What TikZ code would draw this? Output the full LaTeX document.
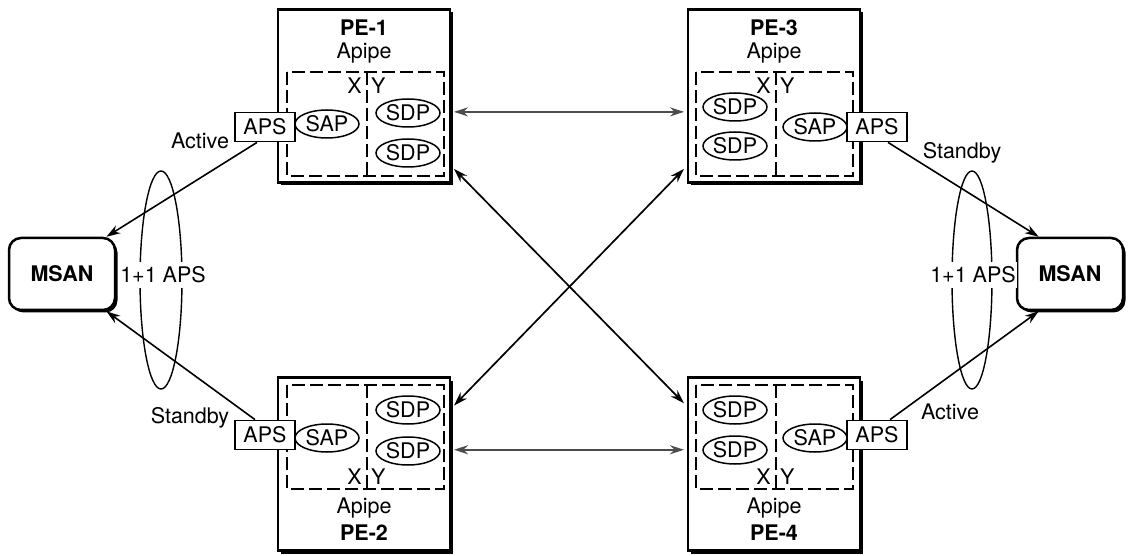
\documentclass[tikz,border=0pt]{standalone}
\usepackage{fontspec}
\setmainfont{TeX Gyre Heros}
\usetikzlibrary{arrows.meta,shapes.geometric,shadows}

\newcommand{\lblfont}{\fontsize{21.5}{25}\selectfont}
\definecolor{linkgray}{gray}{0.3}

\tikzset{
	pebox/.style={draw, line width=2.5pt, fill=white, minimum width=172pt, minimum height=173pt, outer sep=4pt,
		drop shadow={shadow xshift=3pt, shadow yshift=-3pt, fill=black, opacity=1}},
	msanbox/.style={draw, line width=2.5pt, fill=white, rounded corners=12pt, minimum width=106pt, minimum height=72pt,
		font=\bfseries\lblfont, drop shadow={shadow xshift=2.5pt, shadow yshift=-2.5pt, fill=black, opacity=1}},
	svc/.style={draw, ellipse, line width=1.5pt, fill=white, minimum width=64pt, minimum height=28pt, inner sep=0pt},
	apsbox/.style={draw, line width=1.8pt, fill=white, minimum width=60pt, minimum height=29pt, inner sep=0pt},
	dashbox/.style={line width=1.5pt, dash pattern=on 13pt off 5pt},
	petitle/.style={font=\bfseries\lblfont},
	tolink/.style={line width=1.6pt, -{Stealth[length=14pt,width=9pt]}},
	pwlink/.style={line width=1.7pt, {Stealth[length=14pt,width=9pt]}-{Stealth[length=14pt,width=9pt]}}
}

\begin{document}
\begin{tikzpicture}[x=1pt, y=-1pt, every node/.style={font=\lblfont}]
	\useasboundingbox (0,0) rectangle (1128,556);
	% PE routers
	\node[pebox] (pe1) at (364,96) {};
	\node[pebox] (pe3) at (774,96) {};
	\node[pebox] (pe2) at (364,464) {};
	\node[pebox] (pe4) at (774,464) {};
	\node[petitle] (t1) at (364,28) {PE-1};
	\node (ap1) at (364,53) {Apipe};
	\node[petitle] (t3) at (774,28) {PE-3};
	\node (ap3) at (774,53) {Apipe};
	\node (ap2) at (364,508) {Apipe};
	\node[petitle] (t2) at (364,533) {PE-2};
	\node (ap4) at (774,508) {Apipe};
	\node[petitle] (t4) at (774,533) {PE-4};
	% Apipe service, X and Y side
	\foreach \x/\y/\n in {287/72/1, 696/72/3, 287/385/2, 696/385/4} {
		\draw[dashbox] (\x,\y) rectangle (\x+157,\y+104);
		\draw[dashbox] (\x+80,\y) -- (\x+80,\y+104);
	}
	\foreach \x/\y/\n in {367/86/1, 776/86/3, 367/477/2, 776/477/4} {
		\node[anchor=east, inner xsep=5pt] (x\n) at (\x,\y) {X};
		\node[anchor=west, inner xsep=4pt] (y\n) at (\x,\y) {Y};
	}
	% SAPs, SDPs and APS ports
	\node[svc] (sap1) at (327,124) {SAP};
	\node[svc] (sdp1a) at (408,113) {SDP};
	\node[svc] (sdp1b) at (408,153) {SDP};
	\node[apsbox] (aps1) at (265,127) {APS};
	\node[svc] (sdp3a) at (735,107) {SDP};
	\node[svc] (sdp3b) at (735,146) {SDP};
	\node[svc] (sap3) at (815,127) {SAP};
	\node[apsbox] (aps3) at (877,127) {APS};
	\node[svc] (sap2) at (327,438) {SAP};
	\node[svc] (sdp2a) at (408,410) {SDP};
	\node[svc] (sdp2b) at (408,451) {SDP};
	\node[apsbox] (aps2) at (265,435) {APS};
	\node[svc] (sdp4a) at (735,410) {SDP};
	\node[svc] (sdp4b) at (735,450) {SDP};
	\node[svc] (sap4) at (815,438) {SAP};
	\node[apsbox] (aps4) at (877,435) {APS};
	% MSANs
	\node[msanbox] (msanL) at (62,274) {MSAN};
	\node[msanbox] (msanR) at (1070,274) {MSAN};
	% 1+1 APS groups
	\draw[line width=1.4pt] (161,280) ellipse [x radius=21pt, y radius=109pt];
	\draw[line width=1.4pt] (972,280) ellipse [x radius=20pt, y radius=109pt];
	\node[fill=white, inner xsep=1pt, inner ysep=5pt] (g1) at (163,275) {1+1 APS};
	\node[fill=white, inner xsep=1pt, inner ysep=5pt] (g2) at (973,275) {1+1 APS};
	% access links
	\draw[tolink] ([xshift=-8pt]aps1.south) -- (msanL.40);
	\draw[tolink] ([xshift=-10pt]aps2.north) -- (msanL.-40);
	\draw[tolink] ([xshift=11pt]aps3.south) -- (msanR.130);
	\draw[tolink] ([xshift=13pt]aps4.north) -- (msanR.-130);
	\node (act1) at (200,141) {Active};
	\node (stb2) at (190,418) {Standby};
	\node (stb3) at (962,153) {Standby};
	\node (act4) at (950,412) {Active};
	% pseudowires
	\draw[pwlink, linkgray] (pe1.-10) -- (pe3.190);
	\draw[pwlink, linkgray] (pe2.9) -- (pe4.171);
	\draw[pwlink] (pe1.-39) -- (pe4.146);
	\draw[pwlink] (pe3.-141) -- (pe2.33);
\end{tikzpicture}
\end{document}
